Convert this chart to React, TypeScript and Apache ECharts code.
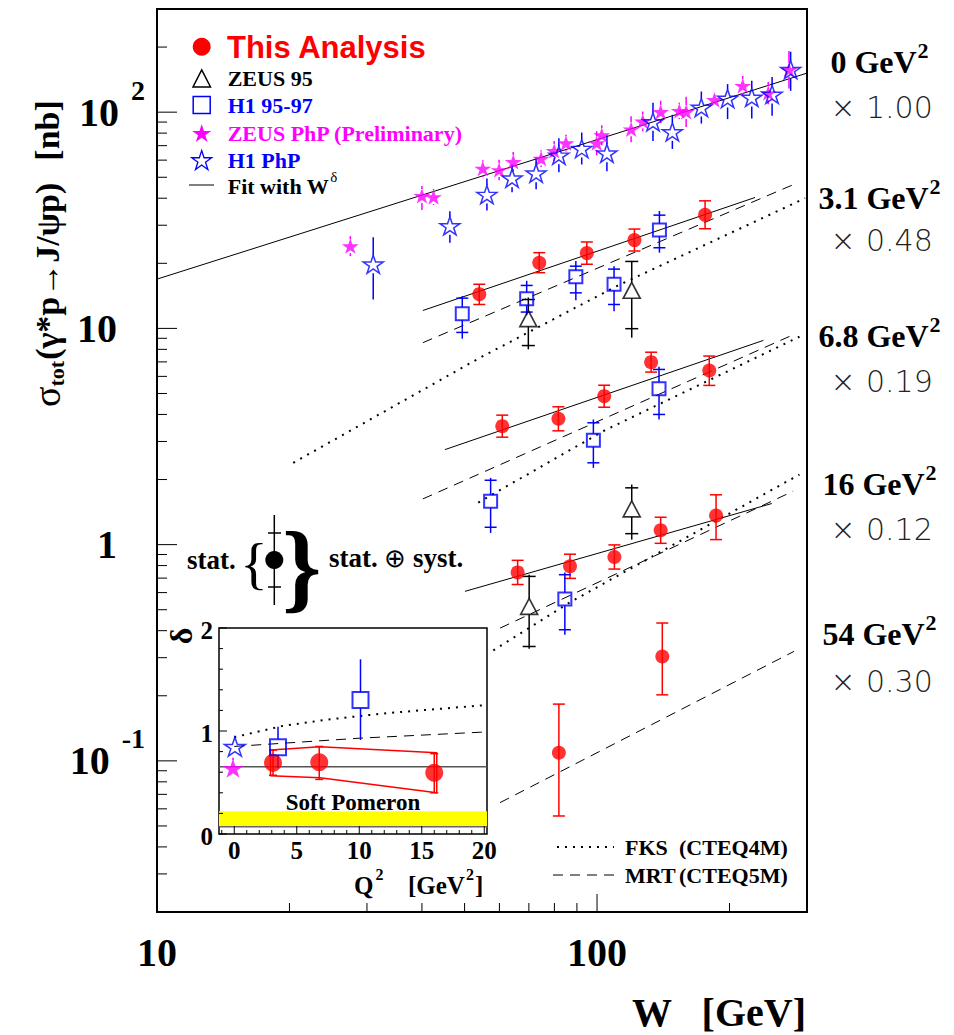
import React, { useEffect, useRef } from "react";
import * as echarts from "echarts";

const SERIF = '"Liberation Serif", "Times New Roman", serif';
const SANS = '"Liberation Sans", Arial, sans-serif';
const WIDE = '"DejaVu Sans", sans-serif';
const RED = "#ff0000";
const BLUE = "#0000ff";
const MAGENTA = "#ff00ff";

// ---------- axis ranges ----------
const W_MIN = 10;
const W_MAX = 300;
const SIG_MIN = 0.02;
const SIG_MAX = 300;
const Q2_MIN = -1.22;
const Q2_MAX = 20.22;
const DELTA_MIN = 0;
const DELTA_MAX = 2;

// ---------- tick values / labels ----------
const wMajorTicks = [10, 100];
const wMinorTicks = [20, 30, 40, 50, 60, 70, 80, 90, 200];
const wTickLabels = ["10", "100"];
const sigMajorTicks = [0.1, 1, 10, 100];
const sigMinorTicks = [
  0.02, 0.03, 0.04, 0.05, 0.06, 0.07, 0.08, 0.09,
  0.2, 0.3, 0.4, 0.5, 0.6, 0.7, 0.8, 0.9,
  2, 3, 4, 5, 6, 7, 8, 9,
  20, 30, 40, 50, 60, 70, 80, 90, 200,
];
const sigLabelBase = ["10", "1", "10", "10"];
const sigLabelExp = ["-1", "", "", "2"];
const q2MajorTicks = [0, 5, 10, 15, 20];
const q2MinorTicks = [-1, 1, 2, 3, 4, 6, 7, 8, 9, 11, 12, 13, 14, 16, 17, 18, 19];
const q2TickLabels = ["0", "5", "10", "15", "20"];
const deltaMajorTicks = [0, 1, 2];
const deltaMinorTicks = [0.2, 0.4, 0.6, 0.8, 1.2, 1.4, 1.6, 1.8];
const deltaTickLabels = ["0", "1", "2"];

// ---------- main panel data: [W GeV, sigma nb (scaled), totLow, totHigh, statLow, statHigh] ----------
const thisQ31 = [[54.0, 14.4, 12.9, 16.0], [73.9, 20.1, 18.1, 22.4], [94.8, 22.3, 19.8, 25.1], [121.6, 25.6, 22.8, 28.8], [176, 33.5, 28.9, 38.9]];
const thisQ68 = [[60.9, 3.53, 3.14, 3.97], [81.7, 3.82, 3.36, 4.34], [103.8, 4.86, 4.32, 5.46], [132.7, 6.98, 6.28, 7.76], [179.9, 6.39, 5.45, 7.45]];
const thisQ16 = [[66.0, 0.744, 0.654, 0.846], [86.8, 0.794, 0.698, 0.903], [109.5, 0.877, 0.771, 0.997], [139.5, 1.165, 1.014, 1.339], [186.4, 1.362, 1.055, 1.7]];
const thisQ54 = [[81.9, 0.109, 0.0556, 0.183], [140.7, 0.304, 0.202, 0.434]];

const h1Q31 = [[49.4, 11.7, 8.96, 14.1, 9.58, 13.8], [69.2, 13.7, 11.5, 16.6, 11.9, 15.8], [89.5, 17.35, 13.5, 20.5, 14.6, 19.4], [109.3, 16.0, 12.0, 19.4, 12.9, 18.8], [138.6, 28.5, 22.4, 34.9, 23.6, 33.4]];
const h1Q68 = [[57.3, 1.587, 1.133, 2.035, 1.203, 1.985], [98.1, 3.04, 2.265, 3.79, 2.39, 3.66], [138.3, 5.26, 3.79, 6.65, 4.0, 6.46]];
const h1Q16 = [[84.5, 0.561, 0.383, 0.744, 0.404, 0.726]];

const zeusQ31 = [[69.8, 11.1, 8.0, 13.9, 8.33, 13.6], [119.9, 15.0, 9.06, 20.5, 9.97, 20.4]];
const zeusQ16 = [[70.1, 0.518, 0.33, 0.726, 0.338, 0.713], [119.9, 1.463, 1.055, 1.896, 1.124, 1.831]];

const zeusPhP = [
  [27.5, 24.0, 21.6, 26.7], [40.0, 41.0, 35.3, 45.6], [42.5, 40.5, 37.2, 44.1],
  [55.0, 54.9, 50.2, 60.0], [59.9, 54.0, 48.4, 60.3], [64.5, 58.9, 53.0, 65.5],
  [74.6, 61.0, 55.7, 66.7], [79.9, 66.2, 59.5, 73.6], [85.0, 71.9, 65.7, 78.7],
  [99.8, 71.9, 63.2, 81.7], [102.5, 78.3, 70.4, 87.1], [119.5, 83.4, 72.6, 95.8],
  [127, 90.6, 81.5, 100.7], [139.5, 100.3, 89, 113], [153.8, 101.4, 92.9, 110.7],
  [159.4, 100.3, 85.5, 117.7], [184.8, 114, 106, 123], [214.3, 132.4, 119, 147],
  [244.9, 122.4, 108.8, 137.8], [273, 157, 128.7, 191.7],
];
const h1PhP = [
  [31.0, 19.8, 13.6, 26.4], [46.3, 29.8, 24.9, 34.8], [56.2, 41.6, 35.1, 49.3],
  [64.1, 49.5, 42.6, 57.5], [72.7, 52.2, 44.0, 61.9], [81.9, 63.2, 52.7, 75.8],
  [92.3, 67.9, 57.3, 80.5], [105.3, 64.6, 53.3, 78.2], [134, 90.2, 73.6, 110.5],
  [148.3, 81.1, 67.6, 97.2], [172.6, 105.1, 88.6, 124.6], [198, 115.7, 92.9, 134.8],
  [224.7, 117, 93.5, 139.6], [249.9, 120.8, 96.2, 145.3], [275.4, 157.3, 125.5, 190.2],
];

// fits (W^delta) and QCD predictions, [W, sigma]
const fitQ0 = [[10, 16.9], [300, 151.6]];
const fitQ31 = [[40.2, 12.1], [228.5, 40.3]];
const fitQ68 = [[45.1, 2.75], [238.8, 8.8]];
const fitQ16 = [[50.1, 0.608], [249.5, 1.549]];
const mrtQ31 = [[40.2, 8.59], [280.5, 46.4]];
const mrtQ68 = [[40.2, 1.627], [277, 9.28]];
const mrtQ16 = [[60.2, 0.411], [279, 1.766]];
const mrtQ54 = [[60.2, 0.0641], [280.4, 0.321]];
const fksQ31 = [[20.4, 2.39], [54.2, 7.32], [110.9, 15.7], [297, 40.0]];
const fksQ68 = [[53.7, 1.565], [103.3, 3.35], [288.4, 9.15]];
const fksQ16 = [[58.1, 0.324], [86.8, 0.541], [288.4, 2.11]];

// ---------- inset: delta vs Q2 ----------
const insetThis = [[3.1, 0.692, 0.57, 0.815], [6.8, 0.696, 0.53, 0.85], [16, 0.595, 0.4, 0.78]];
const insetH1 = [[3.5, 0.842, 0.64, 1.042], [10.1, 1.3, 0.913, 1.696]];
const insetH1PhP = [[0.05, 0.848, 0.78, 0.92]];
const insetZeusPhP = [[-0.1, 0.638, 0.56, 0.74]];
const insetBand = [[2.9, 0.816], [6.86, 0.848], [16.2, 0.789], [16.2, 0.401], [6.86, 0.547], [2.9, 0.566], [2.9, 0.816]];
const insetFks = [[0, 0.94], [3.9, 1.05], [7.4, 1.11], [11.9, 1.17], [16.9, 1.22], [20, 1.25]];
const insetMrt = [[0, 0.85], [10, 0.93], [20, 0.99]];
const softPomeronBand = [[Q2_MIN, 0.07, Q2_MAX, 0.22]];
const insetRefLine = [[Q2_MIN, 0.653], [Q2_MAX, 0.653]];

// ---------- helpers ----------
const STAR_PATH =
  "path://M50,0 L61.2,34.5 L97.6,34.5 L68.2,55.9 L79.4,90.5 L50,69.1 L20.6,90.5 L31.8,55.9 L2.4,34.5 L38.8,34.5 Z";

let measureCtx: CanvasRenderingContext2D | null = null;
function tw(text: string, font: string): number {
  if (!measureCtx) measureCtx = document.createElement("canvas").getContext("2d");
  if (!measureCtx) return text.length * 10;
  measureCtx.font = font;
  return measureCtx.measureText(text).width;
}

function starPoints(cx: number, cy: number, R: number) {
  const r = R * 0.382;
  const pts: number[][] = [];
  for (let i = 0; i < 10; i++) {
    const a = -Math.PI / 2 + (i * Math.PI) / 5;
    const rad = i % 2 ? r : R;
    pts.push([cx + rad * Math.cos(a), cy + rad * Math.sin(a)]);
  }
  return pts;
}

function txt(x: number, y: number, text: string, font: string, fill = "#000", align = "left", extra: any = {}) {
  return {
    type: "text",
    x,
    y,
    silent: true,
    z: 20,
    style: {
      text,
      font,
      fill,
      align,
      textAlign: align,
      verticalAlign: "middle",
      textVerticalAlign: "middle",
    },
    ...extra,
  };
}

function errorBars(data: number[][], color: string, o: { gap: number; cap?: number; tick?: number; lw?: number; axis: number }) {
  const lw = o.lw ?? 1.5;
  return {
    type: "custom",
    xAxisIndex: o.axis,
    yAxisIndex: o.axis,
    silent: true,
    z: 3,
    data,
    renderItem: (params: any, api: any) => {
      const x = api.value(0);
      const c = api.coord([x, api.value(1)]);
      const lo = api.coord([x, api.value(2)]);
      const hi = api.coord([x, api.value(3)]);
      const style = { stroke: color, lineWidth: lw };
      const ch: any[] = [];
      if (hi[1] < c[1] - o.gap) ch.push({ type: "line", shape: { x1: c[0], y1: hi[1], x2: c[0], y2: c[1] - o.gap }, style });
      if (lo[1] > c[1] + o.gap) ch.push({ type: "line", shape: { x1: c[0], y1: c[1] + o.gap, x2: c[0], y2: lo[1] }, style });
      if (o.cap) {
        const h = o.cap / 2;
        ch.push({ type: "line", shape: { x1: c[0] - h, y1: hi[1], x2: c[0] + h, y2: hi[1] }, style });
        ch.push({ type: "line", shape: { x1: c[0] - h, y1: lo[1], x2: c[0] + h, y2: lo[1] }, style });
      }
      if (o.tick) {
        const h = o.tick / 2;
        const sl = api.coord([x, api.value(4)]);
        const sh = api.coord([x, api.value(5)]);
        ch.push({ type: "line", shape: { x1: c[0] - h, y1: sh[1], x2: c[0] + h, y2: sh[1] }, style });
        ch.push({ type: "line", shape: { x1: c[0] - h, y1: sl[1], x2: c[0] + h, y2: sl[1] }, style });
      }
      return { type: "group", children: ch };
    },
  };
}

function scatter(name: string, data: number[][], axis: number, sym: any, z = 4) {
  return {
    type: "scatter",
    name,
    xAxisIndex: axis,
    yAxisIndex: axis,
    silent: true,
    z,
    data: data.map((d) => [d[0], d[1]]),
    ...sym,
  };
}

function curve(data: number[][], axis: number, kind: "solid" | "dash" | "dot", color = "#000", width?: number) {
  const ls: any = { color, width: width ?? 1, type: "solid" };
  if (kind === "dash") ls.type = [10, 7];
  if (kind === "dot") {
    ls.type = [2, 6];
    ls.width = width ?? 2;
  }
  return {
    type: "line",
    xAxisIndex: axis,
    yAxisIndex: axis,
    data,
    symbol: "none",
    showSymbol: false,
    silent: true,
    z: 2,
    lineStyle: ls,
  };
}

function ticks(values: number[], fixed: number, side: "left" | "bottom", len: number, axis: number, lw = 1) {
  return {
    type: "custom",
    xAxisIndex: axis,
    yAxisIndex: axis,
    silent: true,
    z: 6,
    data: values.map((v) => (side === "left" ? [fixed, v] : [v, fixed])),
    renderItem: (params: any, api: any) => {
      const p = api.coord([api.value(0), api.value(1)]);
      const shape =
        side === "left"
          ? { x1: p[0], y1: p[1], x2: p[0] + len, y2: p[1] }
          : { x1: p[0], y1: p[1], x2: p[0], y2: p[1] - len };
      return { type: "line", shape, style: { stroke: "#000", lineWidth: lw } };
    },
  };
}

function buildOption() {
  const bold40 = `bold 40px ${SERIF}`;
  const bold28 = `bold 28px ${SERIF}`;
  const bold22 = `bold 22px ${SERIF}`;

  const hiddenAxis = {
    axisLine: { show: false },
    axisTick: { show: false },
    axisLabel: { show: false },
    splitLine: { show: false },
  };

  // tick labels via the axes' own scales
  const sigLabels = {
    type: "custom",
    xAxisIndex: 0,
    yAxisIndex: 0,
    silent: true,
    z: 6,
    data: sigMajorTicks.map((v, i) => [W_MIN, v, i]),
    renderItem: (params: any, api: any) => {
      const p = api.coord([api.value(0), api.value(1)]);
      const i = api.value(2);
      const base = sigLabelBase[i];
      const exp = sigLabelExp[i];
      const ch: any[] = [];
      if (exp) {
        const expRight = p[0] - 12;
        const ew = tw(exp, bold28);
        ch.push({ type: "text", style: { text: exp, x: expRight, y: p[1] - 22, font: bold28, fill: "#000", align: "right", verticalAlign: "middle" } });
        ch.push({ type: "text", style: { text: base, x: expRight - ew - 12, y: p[1], font: bold40, fill: "#000", align: "right", verticalAlign: "middle" } });
      } else {
        ch.push({ type: "text", style: { text: base, x: p[0] - 40, y: p[1], font: bold40, fill: "#000", align: "right", verticalAlign: "middle" } });
      }
      return { type: "group", children: ch };
    },
  };
  const wLabels = {
    type: "custom",
    xAxisIndex: 0,
    yAxisIndex: 0,
    silent: true,
    z: 6,
    data: wMajorTicks.map((v, i) => [v, SIG_MIN, i]),
    renderItem: (params: any, api: any) => {
      const p = api.coord([api.value(0), api.value(1)]);
      return { type: "text", style: { text: wTickLabels[api.value(2)], x: p[0], y: p[1] + 40, font: bold40, fill: "#000", align: "center", verticalAlign: "middle" } };
    },
  };
  const q2Labels = {
    type: "custom",
    xAxisIndex: 1,
    yAxisIndex: 1,
    silent: true,
    z: 6,
    data: q2MajorTicks.map((v, i) => [v, DELTA_MIN, i]),
    renderItem: (params: any, api: any) => {
      const p = api.coord([api.value(0), api.value(1)]);
      return { type: "text", style: { text: q2TickLabels[api.value(2)], x: p[0], y: p[1] + 16, font: `bold 25px ${SERIF}`, fill: "#000", align: "center", verticalAlign: "middle" } };
    },
  };
  const deltaLabels = {
    type: "custom",
    xAxisIndex: 1,
    yAxisIndex: 1,
    silent: true,
    z: 6,
    data: deltaMajorTicks.map((v, i) => [Q2_MIN, v, i]),
    renderItem: (params: any, api: any) => {
      const p = api.coord([api.value(0), api.value(1)]);
      return { type: "text", style: { text: deltaTickLabels[api.value(2)], x: p[0] - 6, y: p[1] + 2, font: `bold 25px ${SERIF}`, fill: "#000", align: "right", verticalAlign: "middle" } };
    },
  };
  const yellowBand = {
    type: "custom",
    xAxisIndex: 1,
    yAxisIndex: 1,
    silent: true,
    z: 1,
    data: softPomeronBand,
    renderItem: (params: any, api: any) => {
      const a = api.coord([api.value(0), api.value(3)]);
      const b = api.coord([api.value(2), api.value(1)]);
      return {
        type: "group",
        children: [
          { type: "rect", shape: { x: a[0], y: a[1], width: b[0] - a[0], height: b[1] - a[1] }, style: { fill: "#ffff00", stroke: "none" } },
          { type: "line", shape: { x1: a[0], y1: b[1], x2: b[0], y2: b[1] }, style: { stroke: "#666", lineWidth: 1.5 } },
        ],
      };
    },
  };

  const starSym = (size: number, fill: string, stroke?: string) => ({
    symbol: STAR_PATH,
    symbolKeepAspect: true,
    symbolSize: [size, size * 0.95],
    itemStyle: stroke ? { color: "rgba(255,255,255,0)", borderColor: stroke, borderWidth: 1.5 } : { color: fill },
  });
  const circleSym = (size: number) => ({ symbol: "circle", symbolSize: size, itemStyle: { color: RED } });
  const squareSym = (size: number) => ({ symbol: "rect", symbolSize: size, itemStyle: { color: "rgba(255,255,255,0)", borderColor: BLUE, borderWidth: 2 } });
  const triSym = { symbol: "triangle", symbolSize: [17, 16], itemStyle: { color: "rgba(255,255,255,0)", borderColor: "#000", borderWidth: 1.6 } };

  const series: any[] = [
    // curves
    curve(fitQ0, 0, "solid"),
    curve(fitQ31, 0, "solid"),
    curve(fitQ68, 0, "solid"),
    curve(fitQ16, 0, "solid"),
    curve(mrtQ31, 0, "dash"),
    curve(mrtQ68, 0, "dash"),
    curve(mrtQ16, 0, "dash"),
    curve(mrtQ54, 0, "dash"),
    curve(fksQ31, 0, "dot"),
    curve(fksQ68, 0, "dot"),
    curve(fksQ16, 0, "dot"),
    // error bars
    errorBars(zeusPhP, MAGENTA, { gap: 7, axis: 0 }),
    errorBars(h1PhP, BLUE, { gap: 9, axis: 0 }),
    errorBars([...thisQ31, ...thisQ68, ...thisQ16, ...thisQ54], RED, { gap: 0, cap: 12, axis: 0 }),
    errorBars([...h1Q31, ...h1Q68, ...h1Q16], BLUE, { gap: 6.5, tick: 12, axis: 0 }),
    errorBars([...zeusQ31, ...zeusQ16], "#000", { gap: 8, tick: 13, axis: 0 }),
    // markers
    scatter("ZEUS PhP (Preliminary)", zeusPhP, 0, starSym(17, MAGENTA)),
    scatter("H1 PhP", h1PhP, 0, starSym(20, BLUE, BLUE), 5),
    scatter("This Analysis", [...thisQ31, ...thisQ68, ...thisQ16, ...thisQ54], 0, circleSym(14)),
    scatter("H1 95-97", [...h1Q31, ...h1Q68, ...h1Q16], 0, squareSym(13)),
    scatter("ZEUS 95", [...zeusQ31, ...zeusQ16], 0, triSym),
    // main axes ticks and labels
    ticks(sigMajorTicks, W_MIN, "left", 20, 0),
    ticks(sigMinorTicks, W_MIN, "left", 10, 0),
    ticks(wMajorTicks, SIG_MIN, "bottom", 18, 0),
    ticks(wMinorTicks, SIG_MIN, "bottom", 9, 0),
    sigLabels,
    wLabels,
    // inset
    yellowBand,
    curve(insetRefLine, 1, "solid", "#555", 1.5),
    curve(insetFks, 1, "dot"),
    curve(insetMrt, 1, "dash"),
    curve(insetBand, 1, "solid", RED, 1.5),
    errorBars(insetThis, RED, { gap: 0, cap: 8, axis: 1 }),
    errorBars(insetH1, BLUE, { gap: 8, axis: 1 }),
    errorBars(insetH1PhP, BLUE, { gap: 9, axis: 1 }),
    errorBars(insetZeusPhP, MAGENTA, { gap: 8, axis: 1 }),
    scatter("This Analysis δ", insetThis, 1, circleSym(18)),
    scatter("H1 95-97 δ", insetH1, 1, squareSym(16)),
    scatter("ZEUS PhP δ", insetZeusPhP, 1, starSym(21, MAGENTA)),
    scatter("H1 PhP δ", insetH1PhP, 1, starSym(21, BLUE, BLUE), 5),
    ticks(deltaMajorTicks, Q2_MIN, "left", 8, 1),
    ticks(deltaMinorTicks, Q2_MIN, "left", 4, 1),
    ticks(q2MajorTicks, DELTA_MIN, "bottom", 8, 1),
    ticks(q2MinorTicks, DELTA_MIN, "bottom", 4, 1),
    q2Labels,
    deltaLabels,
  ];

  // ----- decorations -----
  const g: any[] = [];
  // y-axis title (rotated)
  const tf = `bold 34px ${SERIF}`;
  const sf = `bold 22px ${SERIF}`;
  const sigF = `38px ${SERIF}`;
  const wSig = tw("σ", sigF);
  const wTot = tw("tot", sf);
  g.push({
    type: "group",
    x: 47,
    y: 407,
    rotation: Math.PI / 2,
    children: [
      txt(0, 0, "σ", sigF),
      txt(wSig, 9, "tot", sf),
      txt(wSig + wTot + 1, 0, "(γ*p→J/ψp)", tf),
      txt(wSig + wTot + 1 + tw("(γ*p→J/ψp)", tf) + 22, 0, "[nb]", tf),
    ],
  });
  // x-axis title
  g.push(txt(632, 1012, "W", bold40));
  g.push(txt(806, 1012, "[GeV]", bold40, "#000", "right"));

  // legend
  g.push({ type: "circle", z: 20, shape: { cx: 201.7, cy: 46.7, r: 9 }, style: { fill: RED } });
  g.push(txt(227, 47, "This Analysis", `bold 31px ${SANS}`, RED));
  g.push({ type: "polygon", z: 20, shape: { points: [[193, 87], [210.5, 87], [201.7, 70]] }, style: { fill: "none", stroke: "#000", lineWidth: 1.5 } });
  g.push(txt(227.7, 78.3, "ZEUS 95", bold22));
  g.push({ type: "rect", z: 20, shape: { x: 193.2, y: 96.5, width: 17, height: 17 }, style: { fill: "none", stroke: BLUE, lineWidth: 1.5 } });
  g.push(txt(227.7, 105, "H1 95-97", bold22, BLUE));
  g.push({ type: "polygon", z: 20, shape: { points: starPoints(201.7, 134, 10) }, style: { fill: MAGENTA } });
  g.push(txt(227.7, 133.3, "ZEUS PhP (Preliminary)", bold22, MAGENTA));
  g.push({ type: "polygon", z: 20, shape: { points: starPoints(201.7, 161, 10.5) }, style: { fill: "none", stroke: BLUE, lineWidth: 1.3 } });
  g.push(txt(227.7, 160, "H1 PhP", bold22, BLUE));
  g.push({ type: "line", z: 20, shape: { x1: 189, y1: 185, x2: 214, y2: 185 }, style: { stroke: "#000", lineWidth: 1 } });
  g.push(txt(227.7, 186, "Fit with W", bold22));
  g.push(txt(227.7 + tw("Fit with W", bold22) + 1, 177, "δ", `15px ${SERIF}`));

  // right-hand labels
  const qLabels = [
    ["0 GeV", 62, "1.00", 107],
    ["3.1 GeV", 198, "0.48", 240],
    ["6.8 GeV", 336, "0.19", 381],
    ["16 GeV", 484, "0.12", 529],
    ["54 GeV", 634, "0.30", 681],
  ];
  const qf = `bold 32px ${SERIF}`;
  const qs = `bold 22px ${SERIF}`;
  const xf = `200 30px ${WIDE}`;
  for (const [t, y, f, y2] of qLabels as any[]) {
    const w1 = tw(t, qf);
    const w2 = tw("2", qs);
    const x0 = 879 - (w1 + w2) / 2;
    g.push(txt(x0, y, t, qf));
    g.push(txt(x0 + w1 + 1, y - 12, "2", qs));
    g.push(txt(843, y2, "×", xf, "#222", "center"));
    g.push(txt(866, y2, f, xf, "#222"));
  }

  // stat / stat+syst explanation
  g.push(txt(187, 560, "stat.", `bold 27px ${SERIF}`));
  g.push(txt(240, 563, "{", `58px ${SERIF}`));
  g.push({ type: "line", z: 20, shape: { x1: 274.3, y1: 515, x2: 274.3, y2: 605 }, style: { stroke: "#000", lineWidth: 1.5 } });
  g.push({ type: "line", z: 20, shape: { x1: 268, y1: 533, x2: 281, y2: 533 }, style: { stroke: "#000", lineWidth: 1.5 } });
  g.push({ type: "line", z: 20, shape: { x1: 268, y1: 587, x2: 281, y2: 587 }, style: { stroke: "#000", lineWidth: 1.5 } });
  g.push({ type: "circle", z: 21, shape: { cx: 274.3, cy: 560, r: 9 }, style: { fill: "#000" } });
  g.push(txt(282, 566, "}", `bold 100px ${SERIF}`));
  const sf27 = `bold 27px ${SERIF}`;
  g.push(txt(329, 558, "stat.", sf27));
  const wStat = tw("stat. ", sf27);
  g.push(txt(329 + wStat, 558, "⊕", `26px ${SERIF}`));
  g.push(txt(329 + wStat + tw("⊕ ", `26px ${SERIF}`), 558, "syst.", sf27));

  // FKS / MRT legend
  g.push({ type: "line", z: 20, shape: { x1: 557, y1: 847, x2: 614, y2: 847 }, style: { stroke: "#000", lineWidth: 2, lineDash: [2, 6] } });
  g.push(txt(625, 847, "FKS", bold22));
  g.push(txt(679, 847, "(CTEQ4M)", bold22));
  g.push({ type: "line", z: 20, shape: { x1: 553, y1: 875, x2: 614, y2: 875 }, style: { stroke: "#000", lineWidth: 1, lineDash: [10, 7] } });
  g.push(txt(625, 875, "MRT", bold22));
  g.push(txt(679, 875, "(CTEQ5M)", bold22));

  // inset decorations
  g.push(txt(353, 802, "Soft Pomeron", `bold 23px ${SERIF}`, "#000", "center"));
  g.push({
    type: "group",
    x: 181,
    y: 636,
    rotation: Math.PI / 2,
    children: [txt(0, 0, "δ", `bold 32px ${SERIF}`, "#000", "center")],
  });
  const qx = `bold 25px ${SERIF}`;
  const qsup = `bold 16px ${SERIF}`;
  g.push(txt(354, 885, "Q", qx));
  g.push(txt(354 + tw("Q", qx) + 2, 874, "2", qsup));
  g.push(txt(408, 885, "[GeV", qx));
  const wg = tw("[GeV", qx);
  g.push(txt(408 + wg + 1, 874, "2", qsup));
  g.push(txt(408 + wg + 1 + tw("2", qsup) + 1, 885, "]", qx));

  return {
    animation: false,
    backgroundColor: "#ffffff",
    textStyle: { fontFamily: SERIF },
    grid: [
      { left: 157, top: 9, width: 650, height: 903, show: true, borderColor: "#000", borderWidth: 2, backgroundColor: "rgba(0,0,0,0)", z: 0 },
      { left: 219, top: 628, width: 268, height: 206, show: true, borderColor: "#000", borderWidth: 1.5, backgroundColor: "#ffffff", z: 1 },
    ],
    xAxis: [
      { type: "log", logBase: 10, min: W_MIN, max: W_MAX, gridIndex: 0, ...hiddenAxis },
      { type: "value", min: Q2_MIN, max: Q2_MAX, gridIndex: 1, ...hiddenAxis },
    ],
    yAxis: [
      { type: "log", logBase: 10, min: SIG_MIN, max: SIG_MAX, gridIndex: 0, ...hiddenAxis },
      { type: "value", min: DELTA_MIN, max: DELTA_MAX, gridIndex: 1, ...hiddenAxis },
    ],
    series,
    graphic: { elements: g },
  };
}

export default function App() {
  const ref = useRef<HTMLDivElement>(null);
  useEffect(() => {
    if (!ref.current) return;
    const chart = echarts.init(ref.current, null, { renderer: "svg" });
    chart.setOption(buildOption() as any);
    return () => chart.dispose();
  }, []);
  return (
    <div
      ref={ref}
      style={{ position: "absolute", left: 0, top: 0, width: 954, height: 1035, background: "#fff" }}
    />
  );
}
